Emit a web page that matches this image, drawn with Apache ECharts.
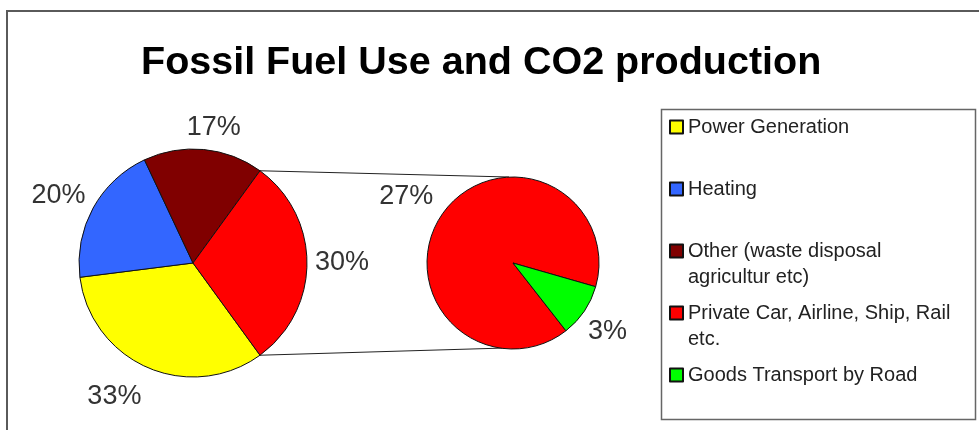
<!DOCTYPE html>
<html>
<head>
<meta charset="utf-8">
<script src="https://cdn.jsdelivr.net/npm/echarts@6/dist/echarts.min.js"></script>
<style>
html,body{margin:0;padding:0;background:#fff;}
#chart{width:979px;height:430px;}
</style>
</head>
<body>
<div id="chart"></div>
<script>
// ---- data ----
var titleText = 'Fossil Fuel Use and CO2 production';
var mainNames = ['Power Generation', 'Heating', 'Other (waste disposal agricultur etc)', 'Transport'];
var mainValues = [33, 20, 17];            // last slice (transport) = sum of secondary
var subNames = ['Private Car, Airline, Ship, Rail etc.', 'Goods Transport by Road'];
var subValues = [27, 3];
var legendNames = ['Power Generation', 'Heating', 'Other (waste disposal agricultur etc)', 'Private Car, Airline, Ship, Rail etc.', 'Goods Transport by Road'];
var legendLines = [
  ['Power Generation', ''],
  ['Heating', ''],
  ['Other (waste disposal', 'agricultur etc)'],
  ['Private Car, Airline, Ship, Rail', 'etc.'],
  ['Goods Transport by Road', '']
];

// ---- style / layout ----
var colorsMain = ['#FFFF00', '#3366FF', '#800000', '#FF0000'];
var colorsSub = ['#FF0000', '#00FF00'];
var FONT = '"Liberation Sans", Arial, sans-serif';
var mainCenter = [193, 263], mainR = 114;
var subCenter = [513, 263], subR = 86;
var subStart = 308;
// per-slice label placement tweaks: [labelLine length, distance]
var mainLabelTweak = [[31, -6], [27, -16], [22, -19], [3, 5]];
var subLabelTweak = [[32, -18], [37, -27]];

var transport = subValues.reduce(function (a, b) { return a + b; }, 0);
var mainAll = mainValues.concat([transport]);
var mainTotal = mainAll.reduce(function (a, b) { return a + b; }, 0);
var tAngle = transport / mainTotal * 360;
var mainStart = 360 - tAngle / 2;

function mkData(names, vals, colors, tweaks) {
  return vals.map(function (v, i) {
    return {
      name: names[i], value: v,
      itemStyle: { color: colors[i] },
      label: { distanceToLabelLine: tweaks[i][1] },
      labelLine: { length: tweaks[i][0], length2: 0 }
    };
  });
}

var chart = echarts.init(document.getElementById('chart'), null, { renderer: 'canvas' });

// connector lines from main pie transport slice edges to secondary pie top/bottom
var a = tAngle / 2 * Math.PI / 180;
var topMain = [mainCenter[0] + mainR * Math.cos(a), mainCenter[1] - mainR * Math.sin(a)];
var botMain = [mainCenter[0] + mainR * Math.cos(a), mainCenter[1] + mainR * Math.sin(a)];
var topSub = [subCenter[0] - 4, subCenter[1] - subR];
var botSub = [subCenter[0] - 8, subCenter[1] + subR - 1];

var labelCommon = {
  show: true, position: 'outside', formatter: '{c}%',
  fontSize: 27, color: '#333', fontFamily: FONT
};

var option = {
  animation: false,
  backgroundColor: '#fff',
  title: {
    text: titleText, left: 141, top: 43, padding: 0,
    textStyle: { fontSize: 39.5, fontWeight: 'bold', color: '#000', fontFamily: FONT }
  },
  legend: {
    orient: 'vertical', left: 669, top: 91, padding: 0,
    itemGap: -10, itemWidth: 13, itemHeight: 13, icon: 'rect',
    selectedMode: false,
    data: legendNames,
    formatter: function (name) {
      var l = legendLines[legendNames.indexOf(name)];
      return '{t| }\n{t|' + l[0] + '}\n{t|' + (l[1] || ' ') + '}';
    },
    textStyle: {
      fontSize: 20, color: '#222', fontFamily: FONT,
      rich: { t: { fontSize: 20, lineHeight: 26, color: '#222', fontFamily: FONT } }
    }
  },
  graphic: [
    { type: 'rect', silent: true, shape: { x: 7, y: 11, width: 1100, height: 600 },
      style: { fill: 'none', stroke: '#5a5a5a', lineWidth: 2 } },
    { type: 'rect', silent: true, shape: { x: 661.5, y: 109.5, width: 314, height: 310 },
      style: { fill: 'none', stroke: '#666', lineWidth: 1.5 } },
    { type: 'line', silent: true, shape: { x1: topMain[0], y1: topMain[1], x2: topSub[0], y2: topSub[1] },
      style: { stroke: '#222', lineWidth: 1 } },
    { type: 'line', silent: true, shape: { x1: botMain[0], y1: botMain[1], x2: botSub[0], y2: botSub[1] },
      style: { stroke: '#222', lineWidth: 1 } }
  ],
  series: [
    {
      type: 'pie', center: mainCenter, radius: mainR,
      startAngle: mainStart, clockwise: true,
      avoidLabelOverlap: false, silent: true,
      itemStyle: { borderColor: '#111', borderWidth: 1 },
      label: labelCommon,
      labelLine: { show: false },
      data: mkData(mainNames, mainAll, colorsMain, mainLabelTweak)
    },
    {
      type: 'pie', center: subCenter, radius: subR,
      startAngle: subStart, clockwise: true,
      avoidLabelOverlap: false, silent: true,
      itemStyle: { borderColor: '#111', borderWidth: 1 },
      label: labelCommon,
      labelLine: { show: false },
      data: mkData(subNames, subValues, colorsSub, subLabelTweak)
    }
  ]
};
chart.setOption(option);
</script>
</body>
</html>
